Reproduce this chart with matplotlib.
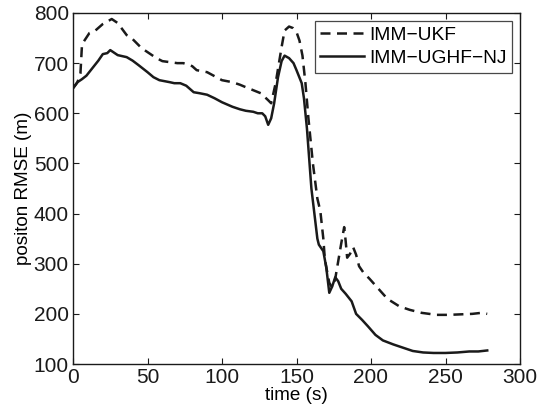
import matplotlib
matplotlib.use('Agg')
import matplotlib.pyplot as plt

# IMM-UKF (dashed)
t_ukf = [0, 3, 5, 6, 7, 11, 15, 20, 26, 30, 36, 40, 46, 50, 56, 60, 65, 70, 74,
         80, 83, 90, 95, 100, 107, 112, 116, 121, 126, 131, 133, 136, 140, 142,
         145, 147.6, 150, 152, 154, 156, 158, 161, 164, 166, 168, 169, 170.5, 172,
         174, 176, 178, 180, 182, 183, 184, 186, 188, 190, 192, 195, 199, 205, 211,
         219, 226, 234, 244, 252, 260, 268, 274, 278]
rmse_ukf = [650, 662, 680, 735, 742, 760, 765, 778, 788, 780, 756, 748, 730, 722, 710,
            704, 702, 700, 700, 694, 686, 682, 674, 666, 662, 657, 652, 646, 640, 626,
            620, 660, 732, 765, 773, 770, 762, 745, 715, 660, 590, 500, 430, 405, 350,
            310, 285, 262, 252, 270, 305, 340, 373, 345, 312, 320, 333, 318, 295, 282,
            270, 250, 230, 215, 208, 202, 198, 198, 199, 200, 202, 200]

# IMM-UGHF-NJ (solid)
t_nj = [0, 1.3, 3, 6, 9, 13, 17, 20, 23, 25, 28, 30, 33, 36, 40, 44, 50, 54, 58, 65,
        68, 72, 76, 81, 85, 90, 95, 100, 107, 112, 116, 121, 124, 127, 129, 131,
        133, 135, 137.6, 140, 142, 145, 148, 150, 153.5, 155, 157, 160, 162, 164,
        165, 168, 170, 172, 174, 176, 178, 180, 183, 187, 190, 194, 198, 203, 208,
        215, 222, 228, 235, 242, 250, 258, 266, 272, 278]
rmse_nj = [650, 655, 662, 668, 675, 690, 705, 718, 720, 726, 720, 716, 714, 712, 705,
           696, 682, 672, 666, 662, 660, 660, 655, 642, 640, 637, 630, 622, 613,
           608, 605, 603, 600, 600, 594, 577, 590, 620, 672, 704, 715, 710, 700, 686,
           660, 630, 570, 450, 400, 350, 338, 325, 292, 242, 255, 273, 265, 250, 240,
           225, 200, 188, 175, 158, 147, 139, 132, 126, 123, 122, 122, 123, 125, 125,
           127]

plt.rcParams['font.family'] = ['Liberation Sans', 'DejaVu Sans']

fig = plt.figure(figsize=(5.51, 4.16), dpi=100)
ax = fig.add_axes([73 / 551, 1 - 364 / 416, 447 / 551, 351 / 416])

ax.plot(t_ukf, rmse_ukf, color='#1a1a1a', lw=1.8, linestyle=(0, (4, 2.6)), label='IMM\u2212UKF')
ax.plot(t_nj, rmse_nj, color='#1a1a1a', lw=1.8, label='IMM\u2212UGHF\u2212NJ')

ax.set_xlim(0, 300)
ax.set_ylim(100, 800)
ax.set_xticks([0, 50, 100, 150, 200, 250, 300])
ax.set_yticks([100, 200, 300, 400, 500, 600, 700, 800])
ax.tick_params(direction='in', top=True, right=True, labelsize=15, length=4,
               width=0.8, pad=3, colors='#1a1a1a')
for s in ax.spines.values():
    s.set_linewidth(1.0)
    s.set_color('#1a1a1a')

ax.set_xlabel('time (s)', fontsize=13.6, labelpad=0)
ax.set_ylabel('positon RMSE (m)', fontsize=13.6, labelpad=1)

leg = ax.legend(loc='upper right', fontsize=13.8, frameon=True, fancybox=False,
                edgecolor='#1a1a1a', borderpad=0.3, handlelength=2.3,
                handletextpad=0.25, labelspacing=0.3, borderaxespad=0.4)
leg.get_frame().set_linewidth(0.9)

fig.savefig('out.png', dpi=100)
